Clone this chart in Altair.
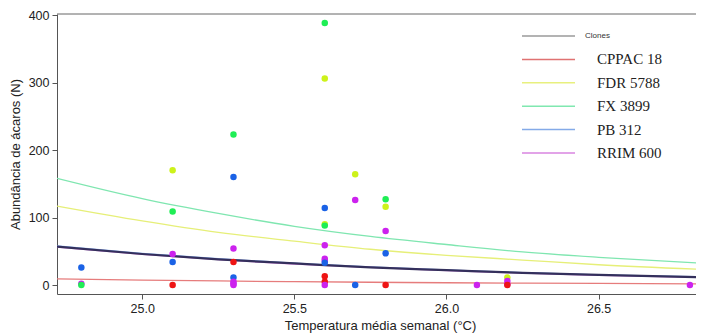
import altair as alt
import pandas as pd

# ---- data ----
clones = ["CPPAC 18", "FDR 5788", "FX 3899", "PB 312", "RRIM 600"]
point_colors = ["#ee1414", "#cdf21a", "#1fee55", "#1a62e6", "#cc22ee"]

# observed points (temperature, abundance, clone)
pt_temp = [24.8, 24.8, 24.8,
           25.1, 25.1, 25.1, 25.1, 25.1,
           25.3, 25.3, 25.3, 25.3, 25.3, 25.3, 25.3, 25.3,
           25.6, 25.6, 25.6, 25.6, 25.6, 25.6, 25.6, 25.6, 25.6, 25.6, 25.6, 25.6,
           25.7, 25.7, 25.7,
           25.8, 25.8, 25.8, 25.8, 25.8,
           26.1,
           26.2, 26.2, 26.2, 26.2,
           26.8]
pt_value = [26, 2, 0,
            170, 109, 46, 34, 0,
            223, 160, 54, 34, 11, 5, 2, 0,
            388, 306, 114, 90, 88, 59, 39, 36, 33, 13, 5, 0,
            164, 126, 0,
            127, 116, 80, 47, 0,
            0,
            11, 6, 1, 0,
            0]
pt_clone = ["PB 312", "RRIM 600", "FX 3899",
            "FDR 5788", "FX 3899", "RRIM 600", "PB 312", "CPPAC 18",
            "FX 3899", "PB 312", "RRIM 600", "CPPAC 18", "PB 312", "RRIM 600", "RRIM 600", "RRIM 600",
            "FX 3899", "FDR 5788", "PB 312", "FDR 5788", "FX 3899", "RRIM 600", "RRIM 600", "RRIM 600", "PB 312", "CPPAC 18", "CPPAC 18", "RRIM 600",
            "FDR 5788", "RRIM 600", "PB 312",
            "FX 3899", "FDR 5788", "RRIM 600", "PB 312", "CPPAC 18",
            "RRIM 600",
            "FDR 5788", "RRIM 600", "RRIM 600", "CPPAC 18",
            "RRIM 600"]

# fitted curves, read at these temperatures
curve_x = [24.72, 25.0, 25.25, 25.5, 25.75, 26.0, 26.25, 26.5, 26.85]
curve_cppac = [9, 7.3, 6, 5, 4.1, 3.4, 2.8, 2.3, 1.8]
curve_fdr = [117, 95, 78, 65, 53, 44, 37, 30, 23]
curve_fx = [158, 128, 106, 87, 72, 60, 49, 41, 32]
curve_pb = [58, 47, 39, 32.5, 27, 22.5, 18.5, 15, 12]
curve_rrim = [56, 45.5, 37.5, 31, 26, 21.5, 17.5, 14.5, 11]
curve_all = [57, 46, 38, 32, 26, 22, 18, 15, 11.5]

line_series = ["CPPAC 18", "FDR 5788", "FX 3899", "PB 312", "RRIM 600", "Clones"]
line_colors = ["#e67c7c", "#e6ef78", "#7fe6b0", "#8cb0ee", "#dc84e4", "#34305c"]

legend_names = ["Clones", "CPPAC 18", "FDR 5788", "FX 3899", "PB 312", "RRIM 600"]
legend_colors = ["#9a9a9a", "#e07272", "#e8f07e", "#80e8b0", "#84aae8", "#d884e0"]

# ---- tables ----
pts = pd.DataFrame({"temp": pt_temp, "value": pt_value, "clone": pt_clone})
curves = []
for name, vals in zip(line_series, [curve_cppac, curve_fdr, curve_fx, curve_pb, curve_rrim, curve_all]):
    for x, v in zip(curve_x, vals):
        curves.append({"temp": x, "value": v, "series": name})
curves = pd.DataFrame(curves)
leg = pd.DataFrame({"name": legend_names})

W, H = 639, 280
xscale = alt.Scale(domain=[24.72, 26.82], nice=False, zero=False)
yscale = alt.Scale(domain=[-13.3, 401.5], nice=False, zero=False)

xaxis = alt.Axis(values=[25.0, 25.5, 26.0, 26.5], format=".1f", grid=False,
                 title="Temperatura média semanal (°C)", titleX=323, titlePadding=5)
yaxis = alt.Axis(values=[0, 100, 200, 300, 400], grid=False,
                 title="Abundância de ácaros (N)", titlePadding=6)

lines = alt.Chart(curves).mark_line(clip=True, interpolate="monotone").encode(
    x=alt.X("temp:Q", scale=xscale, axis=xaxis),
    y=alt.Y("value:Q", scale=yscale, axis=yaxis),
    color=alt.Color("series:N", scale=alt.Scale(domain=line_series, range=line_colors), legend=None),
    strokeWidth=alt.condition(alt.datum.series == "Clones", alt.value(2.2), alt.value(1.3)),
    detail="series:N",
)

points = alt.Chart(pts).mark_circle(size=42, opacity=1, clip=True).encode(
    x=alt.X("temp:Q", scale=xscale),
    y=alt.Y("value:Q", scale=yscale),
    color=alt.Color("clone:N", scale=alt.Scale(domain=clones, range=point_colors), legend=None),
)

# top frame line (plot box open on the right, as cropped in the reference)
top_line = alt.Chart(leg).transform_filter(alt.datum.name == "Clones").mark_rule(
    color="#666", strokeWidth=1
).encode(x=alt.value(0), x2=alt.value(W), y=alt.value(0))

data_layer = alt.layer(lines, points, top_line).resolve_scale(color="independent")

leg_y = alt.Y("name:N", scale=alt.Scale(type="point", domain=legend_names, range=[22, 139], padding=0), axis=None)

leg_rules = alt.Chart(leg).mark_rule(strokeWidth=1.5).encode(
    x=alt.value(465), x2=alt.value(518),
    y=leg_y,
    color=alt.Color("name:N", scale=alt.Scale(domain=legend_names, range=legend_colors), legend=None),
)
leg_text_main = alt.Chart(leg).transform_filter(alt.datum.name != "Clones").mark_text(
    align="left", baseline="middle", font="Liberation Serif", fontSize=15, color="#222"
).encode(x=alt.value(540), y=leg_y, text="name:N")
leg_text_title = alt.Chart(leg).transform_filter(alt.datum.name == "Clones").mark_text(
    align="left", baseline="middle", font="Liberation Sans", fontSize=8, color="#333"
).encode(x=alt.value(528), y=leg_y, text="name:N")

legend_layer = alt.layer(leg_rules, leg_text_main, leg_text_title).resolve_scale(color="independent")

chart = alt.layer(data_layer, legend_layer).resolve_scale(
    y="independent", color="independent"
).properties(
    width=W, height=H,
    autosize=alt.AutoSizeParams(type="none"),
    padding={"left": 49, "top": 6, "right": 0, "bottom": 40},
).configure_view(
    stroke=None
).configure_axis(
    domainColor="#555", tickColor="#555", tickSize=5,
    labelFont="Liberation Sans", labelFontSize=12.5, labelColor="#222", labelPadding=3,
    titleFont="Liberation Sans", titleFontSize=13, titleFontWeight="normal", titleColor="#222",
).configure_axisY(labelAngle=0)

chart.save("out.html", embed_options={"renderer": "svg", "actions": False})
